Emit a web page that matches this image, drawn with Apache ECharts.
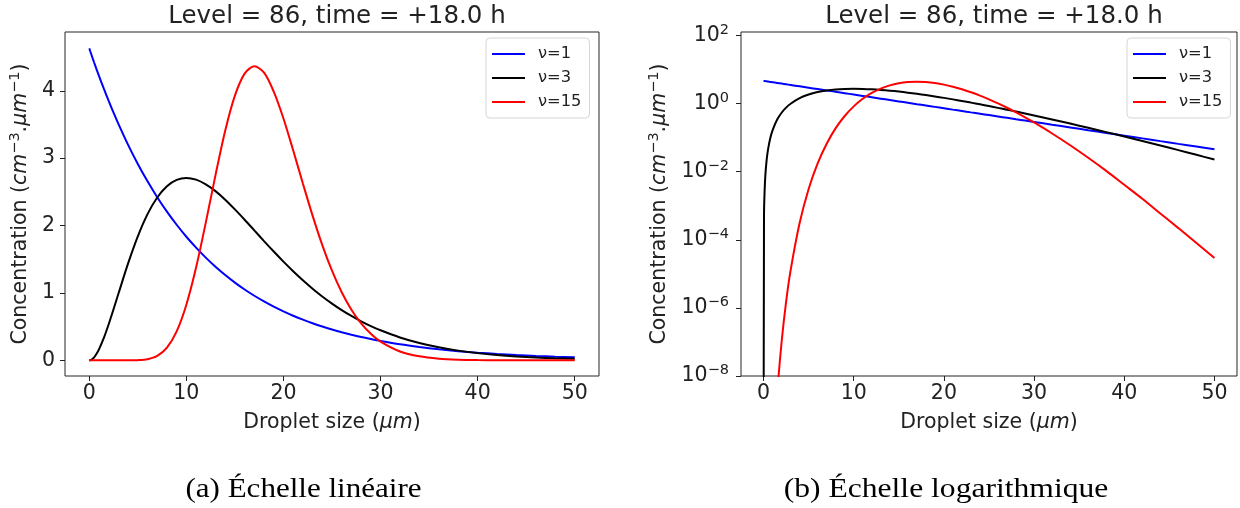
<!DOCTYPE html>
<html>
<head>
<meta charset="utf-8">
<script src="https://cdn.jsdelivr.net/npm/echarts@6/dist/echarts.min.js"></script>
<style>html,body{margin:0;padding:0;background:#fff;}#c{width:1240px;height:508px;}</style>
</head>
<body>
<div id="c"></div>
<script>
// ---- data ----
const dropletSize = [0, 0.05, 0.1, 0.2, 0.35, 0.5, 0.75, 1, 1.5, 2, 2.5, 3, 4, 5, 6, 7, 8, 9, 10,
  11, 12, 13, 14, 15, 16, 17, 18, 19, 20, 21, 22, 23, 24, 25, 26, 27, 28, 29, 30,
  32, 34, 36, 38, 40, 42, 44, 46, 48, 50];
const nu1 = [4.63, 4.609, 4.587, 4.545, 4.481, 4.419, 4.318, 4.221, 4.031, 3.849, 3.675, 3.509, 3.197, 2.914, 2.656, 2.421, 2.207, 2.012, 1.834,
  1.672, 1.524, 1.389, 1.266, 1.154, 1.052, 0.959, 0.875, 0.797, 0.727, 0.662, 0.604, 0.550, 0.502, 0.457, 0.417, 0.380, 0.346, 0.316, 0.288,
  0.239, 0.199, 0.165, 0.137, 0.114, 0.0948, 0.0787, 0.0654, 0.0544, 0.0451];
const nu3 = [0, 0.000495, 0.00196, 0.00769, 0.02284, 0.04524, 0.09683, 0.1637, 0.3334, 0.5363, 0.7582, 0.9879, 1.438, 1.839, 2.169, 2.417, 2.584, 2.678, 2.707,
  2.681, 2.612, 2.511, 2.384, 2.240, 2.087, 1.929, 1.770, 1.615, 1.465, 1.323, 1.189, 1.064, 0.948, 0.842, 0.746, 0.659, 0.580, 0.509, 0.446,
  0.340, 0.2576, 0.1936, 0.1446, 0.1074, 0.0793, 0.0584, 0.0428, 0.0312, 0.0227];
const nu15 = [0, 0, 0, 0, 0, 0, 3e-13, 1.4e-11, 2.6e-9, 9.8e-8, 1.5e-6, 1.26e-5, 3.1e-4, 0.0031, 0.0175, 0.066, 0.189, 0.43, 0.826,
  1.377, 2.044, 2.748, 3.408, 3.928, 4.255, 4.362, 4.268, 3.987, 3.589, 3.117, 2.625, 2.147, 1.711, 1.330, 1.010, 0.751, 0.549, 0.394, 0.278,
  0.132, 0.0595, 0.0255, 0.0105, 0.0041, 0.0016, 0.00059, 0.00022, 0.00008, 0.000029];
const seriesNames = ['\u03bd=1', '\u03bd=3', '\u03bd=15'];
const seriesColors = ['#0000ff', '#000000', '#ff0000'];
const xTicks = [0, 10, 20, 30, 40, 50];
const yTicksLinear = [0, 1, 2, 3, 4];
const yTicksLog = [1e-8, 1e-6, 1e-4, 1e-2, 1, 100];
const titleText = 'Level = 86, time = +18.0 h';
const captions = ['(a) \u00c9chelle lin\u00e9aire', '(b) \u00c9chelle logarithmique'];

// ---- chart ----
const FONT = '"DejaVu Sans", sans-serif';
const INK = '#222';
const chart = echarts.init(document.getElementById('c'), null, {renderer: 'canvas'});
const allSeries = [nu1, nu3, nu15];
const LOG_FLOOR = 1e-12; // zero drawn below the log axis bottom (clipped)

function pairs(arr, isLog) {
  return dropletSize.map((x, i) => [x, isLog ? (arr[i] > 0 ? arr[i] : LOG_FLOOR) : arr[i]]);
}

const supRich = {
  b: {fontSize: 20.5, fontFamily: FONT, color: INK, lineHeight: 26},
  s: {fontSize: 14.5, fontFamily: FONT, color: INK, verticalAlign: 'top', lineHeight: 14},
  i: {fontSize: 20.5, fontFamily: FONT, color: INK, fontStyle: 'italic', lineHeight: 26}
};
const yName = 'Concentration ({i|cm}{s|\u22123}.{i|\u03bcm}{s|\u22121})';
const xName = 'Droplet size ({i|\u03bcm})';

function xAxis(gi) {
  return {
    type: 'value', gridIndex: gi, min: -2.5, max: 52.5,
    name: xName, nameLocation: 'middle', nameGap: 34,
    nameTextStyle: {fontSize: 20.5, fontFamily: FONT, color: INK, lineHeight: 26, rich: supRich},
    axisLine: {show: false, onZero: false},
    axisTick: {show: true, length: 5, lineStyle: {color: INK, width: 1}, customValues: xTicks},
    axisLabel: {fontSize: 20.5, fontFamily: FONT, color: INK, margin: 7, customValues: xTicks},
    splitLine: {show: false}
  };
}

const option = {
  animation: false,
  backgroundColor: '#ffffff',
  title: [
    {text: titleText, left: 332, top: -1, textAlign: 'center',
     textStyle: {fontSize: 24.5, fontWeight: 'normal', fontFamily: FONT, color: INK}},
    {text: titleText, left: 989, top: -1, textAlign: 'center',
     textStyle: {fontSize: 24.5, fontWeight: 'normal', fontFamily: FONT, color: INK}}
  ],
  grid: [
    {left: 65, top: 32, width: 534, height: 344, show: true, borderColor: '#262626', borderWidth: 1, backgroundColor: 'transparent'},
    {left: 741, top: 32, width: 496, height: 344, show: true, borderColor: '#262626', borderWidth: 1, backgroundColor: 'transparent'}
  ],
  xAxis: [xAxis(0), xAxis(1)],
  yAxis: [
    {type: 'value', gridIndex: 0, min: -0.232, max: 4.872,
     name: yName, nameLocation: 'middle', nameGap: 31, nameRotate: 90,
     nameTextStyle: {fontSize: 20.5, fontFamily: FONT, color: INK, lineHeight: 26, rich: supRich},
     axisLine: {show: false, onZero: false},
     axisTick: {show: true, length: 5, lineStyle: {color: INK}, customValues: yTicksLinear},
     axisLabel: {fontSize: 20.5, fontFamily: FONT, color: INK, margin: 10, customValues: yTicksLinear},
     splitLine: {show: false}},
    {type: 'log', logBase: 100, gridIndex: 1, min: 1e-8, max: 125.9,
     name: yName, nameLocation: 'middle', nameGap: 68, nameRotate: 90,
     nameTextStyle: {fontSize: 20.5, fontFamily: FONT, color: INK, lineHeight: 26, rich: supRich},
     axisLine: {show: false, onZero: false},
     axisTick: {show: true, length: 5, lineStyle: {color: INK}, customValues: yTicksLog},
     axisLabel: {fontSize: 20.5, fontFamily: FONT, color: INK, margin: 12, customValues: yTicksLog,
       rich: supRich,
       formatter: function (v) {
         const e = Math.log10(v);
         const r = Math.round(e);
         if (Math.abs(e - r) > 0.01) return '';
         return '{b|10}{s|' + (r < 0 ? '\u2212' + (-r) : String(r)) + '}';
       }},
     splitLine: {show: false}}
  ],
  legend: [0, 1].map(gi => ({
    data: seriesNames,
    orient: 'vertical',
    left: gi === 0 ? 486 : 1127, top: 38,
    icon: 'rect', itemWidth: 33, itemHeight: 2, itemGap: 8,
    padding: [8, 8, 8, 6],
    backgroundColor: 'rgba(255,255,255,0.8)',
    borderColor: '#d6d6d6', borderWidth: 1, borderRadius: 4,
    textStyle: {fontSize: 16.3, fontFamily: FONT, color: INK, lineHeight: 16, padding: [0, 0, 0, 8]},
    selectedMode: false
  })),
  series: [],
  graphic: [
    {type: 'text', x: 303.5, y: 490, scaleX: 1.15,
     style: {text: captions[0], font: '27px "Liberation Serif", serif', fill: '#000', align: 'center', verticalAlign: 'middle', textAlign: 'center', textVerticalAlign: 'middle'}},
    {type: 'text', x: 946, y: 490, scaleX: 1.17,
     style: {text: captions[1], font: '27px "Liberation Serif", serif', fill: '#000', align: 'center', verticalAlign: 'middle', textAlign: 'center', textVerticalAlign: 'middle'}}
  ]
};

[0, 1].forEach(gi => {
  allSeries.forEach((arr, k) => {
    option.series.push({
      type: 'line', name: seriesNames[k], xAxisIndex: gi, yAxisIndex: gi,
      data: pairs(arr, gi === 1),
      showSymbol: false, symbol: 'none', smooth: 0.3, clip: true,
      lineStyle: {color: seriesColors[k], width: 2},
      itemStyle: {color: seriesColors[k]},
      z: 3 + k
    });
  });
});

chart.setOption(option);
</script>
</body>
</html>
